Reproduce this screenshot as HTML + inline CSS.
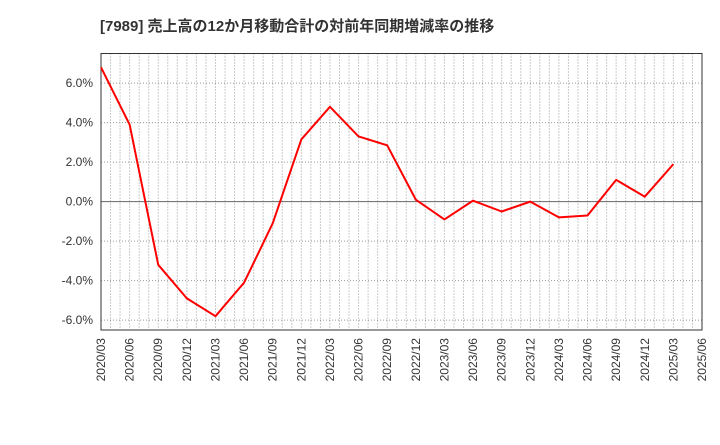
<!DOCTYPE html>
<html><head><meta charset="utf-8"><style>
body{margin:0;background:#fff;}
svg text{font-family:"Liberation Sans","Noto Sans CJK JP",sans-serif;}
</style></head><body>
<svg width="720" height="440">
<text x="100" y="31" font-size="15" font-weight="bold" fill="#333">[7989]  売上高の12か月移動合計の対前年同期増減率の推移</text>
<g id="grid"></g><g id="axes"></g><g id="series"></g>
</svg>
<script>
const categories=["2020/03","2020/06","2020/09","2020/12","2021/03","2021/06","2021/09","2021/12","2022/03","2022/06","2022/09","2022/12","2023/03","2023/06","2023/09","2023/12","2024/03","2024/06","2024/09","2024/12","2025/03","2025/06"];
const values=[6.8,3.9,-3.2,-4.9,-5.8,-4.1,-1.1,3.15,4.8,3.3,2.85,0.1,-0.9,0.05,-0.5,0.0,-0.8,-0.7,1.1,0.25,1.9];
const yTicks=[-6,-4,-2,0,2,4,6];
const L=101,R=702,T=53.5,B=330,yMin=-6.5,yMax=7.5;
const ns="http://www.w3.org/2000/svg";
const X=i=>L+(R-L)*i/(categories.length-1);
const Y=v=>T+(yMax-v)/(yMax-yMin)*(B-T);
function mk(tag,attrs,parent){const e=document.createElementNS(ns,tag);for(const k in attrs)e.setAttribute(k,attrs[k]);document.getElementById(parent).appendChild(e);return e;}
const nm=(categories.length-1)*3;
for(let m=1;m<nm;m++){const x=L+(R-L)*m/nm;const e=mk("line",{x1:x,x2:x,y1:T,y2:B,stroke:"#999","stroke-dasharray":"1,2","stroke-width":1},"grid");

}
yTicks.forEach(v=>{const y=Y(v);const e=mk("line",{x1:L,x2:R,y1:y,y2:y,stroke:v===0?"#666":"#999","stroke-dasharray":v===0?"none":"1,2","stroke-width":1},"grid");


const t=mk("text",{x:L-8,y:y+4,"text-anchor":"end","font-size":12,fill:"#333"},"axes");t.textContent=v.toFixed(1)+"%";

});
const f=mk("rect",{x:L,y:T,width:R-L,height:B-T,fill:"none",stroke:"#333","stroke-width":1},"axes");


categories.forEach((c,i)=>{const x=X(i)+4;const t=mk("text",{x:x,y:338,"text-anchor":"end","font-size":12,fill:"#333",transform:`rotate(-90 ${x} 338)`},"axes");t.textContent=c;

});
const p=mk("polyline",{points:values.map((v,i)=>X(i)+","+Y(v)).join(" "),fill:"none",stroke:"#f00","stroke-width":2,"stroke-linejoin":"round"},"series");


</script>
</body></html>
